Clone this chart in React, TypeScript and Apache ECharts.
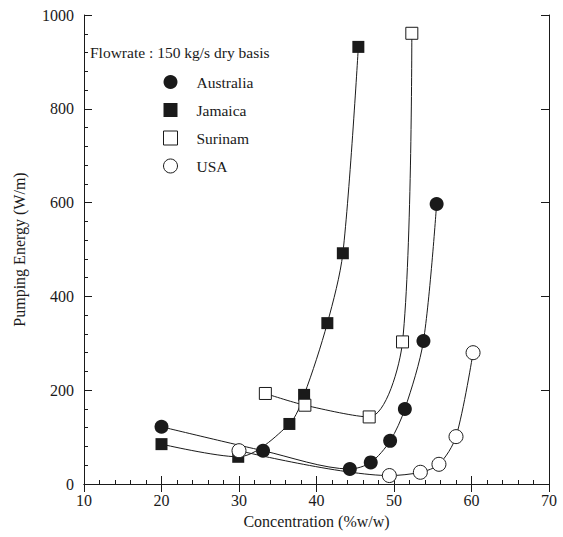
import React, { useEffect, useRef } from "react";
import * as echarts from "echarts";

const australiaX = [20, 33.1, 44.3, 47.0, 49.5, 51.4, 53.8, 55.5];
const australiaY = [122, 71, 32, 46, 92, 160, 305, 597];
const jamaicaX = [20, 29.9, 36.5, 38.4, 41.4, 43.4, 45.4];
const jamaicaY = [85, 58, 128, 190, 343, 492, 932];
const surinamX = [33.4, 38.5, 46.8, 51.1, 52.3];
const surinamY = [193, 168, 143, 303, 961];
const usaX = [30.0, 49.4, 53.4, 55.8, 58.0, 60.2];
const usaY = [71, 18, 25, 42, 101, 280];

const xTicks = [10, 20, 30, 40, 50, 60, 70];
const yTicks = [0, 200, 400, 600, 800, 1000];

const FONT = "Liberation Serif";
const INK = "#1a1a1a";

function pairs(xs: number[], ys: number[]) {
  return xs.map((x, i) => [x, ys[i]]);
}

export default function App() {
  const ref = useRef<HTMLDivElement>(null);
  useEffect(() => {
    if (!ref.current) return;
    const chart = echarts.init(ref.current, undefined, { renderer: "svg" });
    const axisLine = { show: true, lineStyle: { color: INK, width: 1 } };
    const baseX = {
      type: "value" as const,
      min: xTicks[0],
      max: xTicks[xTicks.length - 1],
      interval: 10,
      splitLine: { show: false },
      axisLine,
    };
    const baseY = {
      type: "value" as const,
      min: yTicks[0],
      max: yTicks[yTicks.length - 1],
      interval: 200,
      splitLine: { show: false },
      axisLine,
    };
    const lineSeries = (
      name: string,
      data: number[][],
      symbol: string,
      size: number,
      filled: boolean
    ) => ({
      name,
      type: "line",
      data,
      smooth: 0.3,
      symbol,
      symbolSize: size,
      showAllSymbol: true,
      lineStyle: { color: INK, width: 1 },
      itemStyle: {
        color: filled ? INK : "#ffffff",
        borderColor: INK,
        borderWidth: filled ? 0 : 1,
        opacity: 1,
      },
      z: 3,
    });
    chart.setOption({
      animation: false,
      backgroundColor: "#ffffff",
      textStyle: { fontFamily: FONT, color: INK },
      grid: { left: 84, right: 14, top: 15, bottom: 53 },
      xAxis: [
        {
          ...baseX,
          position: "bottom",
          name: "Concentration (%w/w)",
          nameLocation: "middle",
          nameGap: 29,
          nameTextStyle: { fontFamily: FONT, fontSize: 16, color: INK },
          axisTick: { show: true, inside: true, length: 8, lineStyle: { color: INK } },
          minorTick: { show: true, splitNumber: 5, length: 4, lineStyle: { color: INK } },
          axisLabel: { fontFamily: FONT, fontSize: 16, color: INK, margin: 8, formatter: (v: number) => String(v) },
        },
        {
          ...baseX,
          position: "top",
          axisTick: { show: true, inside: true, length: 8, lineStyle: { color: INK } },
          axisLabel: { show: false },
        },
      ],
      yAxis: [
        {
          ...baseY,
          position: "left",
          name: "Pumping Energy (W/m)",
          nameLocation: "middle",
          nameGap: 57,
          nameTextStyle: { fontFamily: FONT, fontSize: 16, color: INK },
          axisTick: { show: true, inside: true, length: 8, lineStyle: { color: INK } },
          minorTick: { show: true, splitNumber: 5, length: 4, lineStyle: { color: INK } },
          axisLabel: { fontFamily: FONT, fontSize: 16, color: INK, margin: 10, formatter: (v: number) => String(v) },
        },
        {
          ...baseY,
          position: "right",
          axisTick: { show: true, inside: true, length: 8, lineStyle: { color: INK } },
          axisLabel: { show: false },
        },
      ],
      legend: {
        orient: "vertical",
        left: 163,
        top: 74,
        padding: 0,
        itemWidth: 14,
        itemHeight: 14,
        itemGap: 12,
        textStyle: { fontFamily: FONT, fontSize: 15.5, color: INK, padding: [0, 0, 0, 14] },
        data: [
          { name: "Australia", icon: "circle", itemStyle: { color: INK, borderWidth: 0 } },
          { name: "Jamaica", icon: "rect", itemStyle: { color: INK, borderWidth: 0 } },
          { name: "Surinam", icon: "rect", itemStyle: { color: "#fff", borderColor: INK, borderWidth: 1 } },
          { name: "USA", icon: "circle", itemStyle: { color: "#fff", borderColor: INK, borderWidth: 1 } },
        ],
      },
      graphic: [
        {
          type: "text",
          left: 90,
          top: 44,
          style: {
            text: "Flowrate : 150 kg/s dry basis",
            fontFamily: FONT,
            fontSize: 15.5,
            fill: INK,
          },
        },
      ],
      series: [
        lineSeries("Australia", pairs(australiaX, australiaY), "circle", 14, true),
        lineSeries("Jamaica", pairs(jamaicaX, jamaicaY), "rect", 12, true),
        lineSeries("Surinam", pairs(surinamX, surinamY), "rect", 12, false),
        lineSeries("USA", pairs(usaX, usaY), "circle", 14, false),
      ],
    });
    return () => chart.dispose();
  }, []);
  return (
    <div
      ref={ref}
      style={{ position: "absolute", left: 0, top: 0, width: 563, height: 537 }}
    />
  );
}
